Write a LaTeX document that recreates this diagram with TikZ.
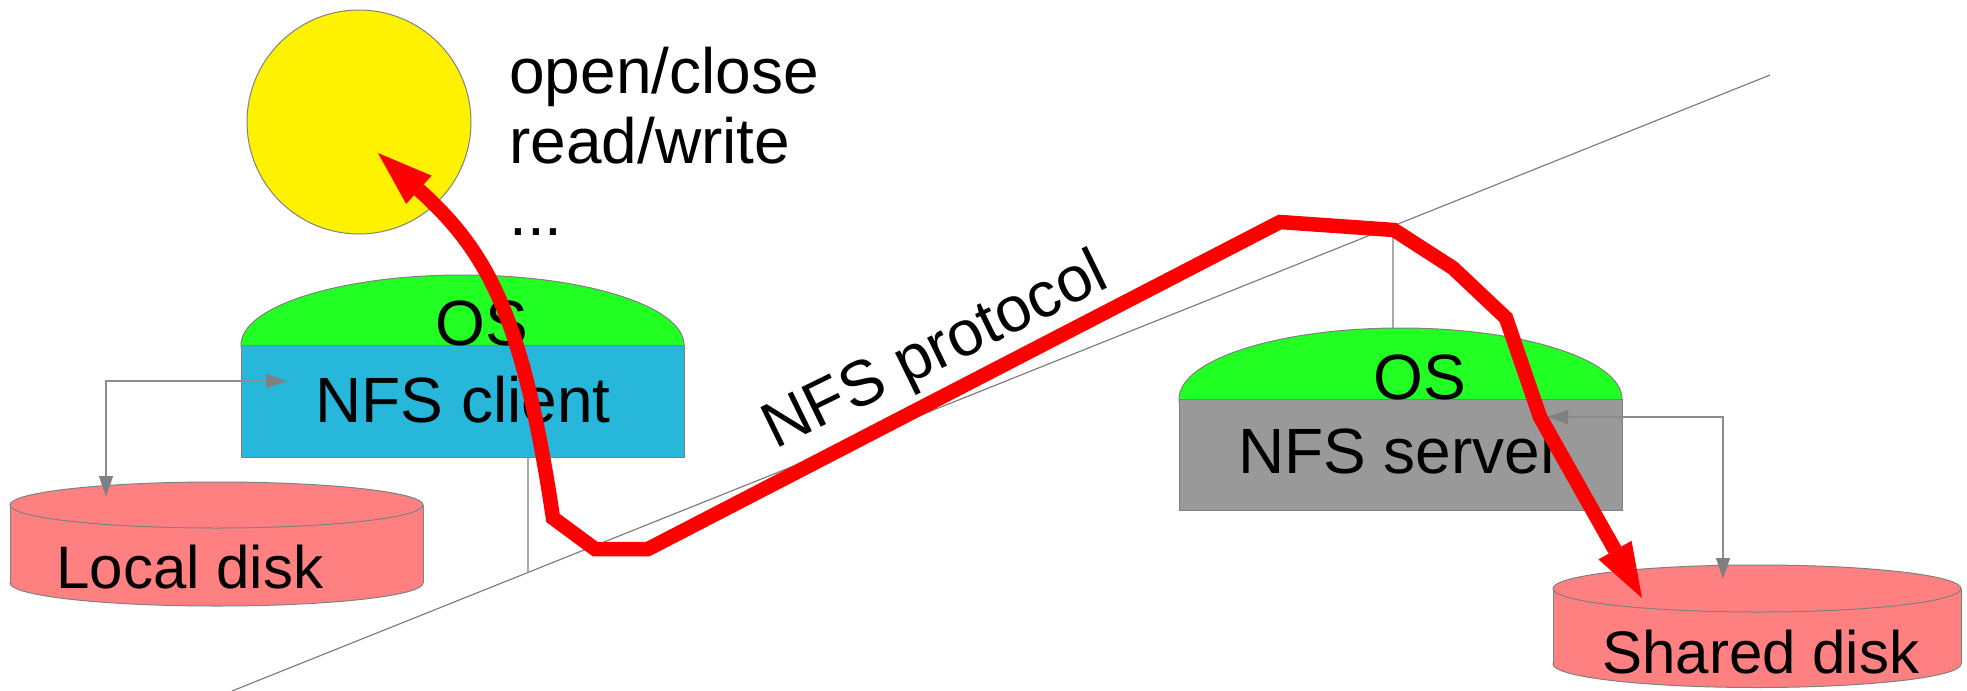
\documentclass[tikz,border=0pt]{standalone}
\usepackage{fontspec}
\setmainfont{Liberation Sans}
\usetikzlibrary{arrows.meta}
\definecolor{osgreen}{RGB}{34,255,34}
\definecolor{clblue}{RGB}{38,183,219}
\definecolor{svgray}{RGB}{153,153,153}
\definecolor{diskpink}{RGB}{255,128,128}
\definecolor{outl}{RGB}{128,128,128}
\definecolor{connc}{RGB}{140,140,140}
\definecolor{thinc}{RGB}{170,170,170}
\begin{document}
\begin{tikzpicture}[x=0.5pt,y=-0.5pt,
  outline/.style={draw=outl, line width=0.5pt},
  lbl/.style={font=\fontsize{32}{38}\selectfont, inner sep=0pt, anchor=base},
  txt/.style={font=\fontsize{32}{38}\selectfont, inner sep=0pt, anchor=base west},
  dlbl/.style={font=\fontsize{30}{36}\selectfont, inner sep=0pt, anchor=base west},
  gtip/.style={Triangle[length=10.5pt,width=7pt,color=outl]},
  conn/.style={draw=connc, line width=0.6pt, {Triangle[length=10.5pt,width=7pt,color=outl]}-{Triangle[length=10.5pt,width=7pt,color=outl]}},
  flow/.style={draw=red, line width=7.25pt, line join=miter, {Triangle[length=27.5pt,width=19pt,line width=0pt]}-{Triangle[length=27.5pt,width=19pt,line width=0pt]}},
  plane/.style={draw=outl, line width=0.6pt},
  drop/.style={draw=thinc, line width=0.6pt},
  boxnode/.style={draw=outl, line width=0.5pt, minimum width=221.5pt, inner sep=0pt}
]
\useasboundingbox (0,0) rectangle (1967,691);

% network plane
\coordinate (pa) at (232,691);
\coordinate (pb) at (1770,75);
\draw[plane] (pa) -- (pb);

% application circle
\node[circle, fill=yellow, draw=outl, line width=0.5pt, minimum size=112pt, inner sep=0pt] (app) at (359,122) {};
\node[txt] (op1) at (509,93) {open/close};
\node[txt] (op2) at (509,163) {read/write};
\node[txt] (op3) at (509,235) {...};

% client
\coordinate (cdrop) at (528,572.4);
\filldraw[fill=osgreen, outline] (462.5,345) ellipse[x radius=221.5, y radius=70];
\node[boxnode, fill=clblue, minimum height=56pt] (cbox) at (462.5,401) {};
\draw[drop] (cdrop |- cbox.south) -- (cdrop);
\node[lbl] (cos) at (482,345) {OS};
\node[lbl] (cnfs) at (463,422) {NFS client};

% server
\coordinate (sdrop) at (1393,226);
\coordinate (sdometop) at (1400.5,328);
\draw[drop] (sdrop) -- (sdrop |- sdometop);
\filldraw[fill=osgreen, outline] (1400.5,399) ellipse[x radius=221.5, y radius=71];
\node[boxnode, fill=svgray, minimum height=55.5pt] (sbox) at (1400.5,454.5) {};
\node[lbl] (sos) at (1420,399) {OS};
\node[lbl] (snfs) at (1400,473) {NFS server};

% local disk
\filldraw[fill=diskpink, outline] (216.5,583) ellipse[x radius=206.5, y radius=23];
\fill[diskpink] (10,505) rectangle (423,583);
\draw[outline] (10,505) -- (10,583) (423,505) -- (423,583);
\filldraw[fill=diskpink, outline] (216.5,505) ellipse[x radius=206.5, y radius=23];
\node[dlbl] (ldisk) at (56,588) {Local disk};

% shared disk
\filldraw[fill=diskpink, outline] (1757,664) ellipse[x radius=204, y radius=23.5];
\fill[diskpink] (1553,588.5) rectangle (1961,664);
\draw[outline] (1553,588.5) -- (1553,664) (1961,588.5) -- (1961,664);
\filldraw[fill=diskpink, outline] (1757,588.5) ellipse[x radius=204, y radius=23.5];
\node[dlbl] (sdisk) at (1602,673) {Shared disk};

% local connectors
\coordinate (cin) at (287,381);
\coordinate (ldtop) at (106,497);
\draw[conn] (cin) -| (ldtop);
\coordinate (sin) at (1547,417);
\coordinate (sdtop) at (1723,579);
\draw[conn] (sin) -| (sdtop);

% protocol label
\node[txt, rotate=26] (proto) at (775,450) {NFS protocol};

% request path
\coordinate (f0) at (378,153);
\coordinate (f1) at (553,518);
\coordinate (f2) at (595,549);
\coordinate (f3) at (648,549);
\coordinate (f4) at (1280,222);
\coordinate (f5) at (1394,230);
\coordinate (f6) at (1453,268);
\coordinate (f7) at (1506,318);
\coordinate (f8) at (1540,417);
\coordinate (f9) at (1642,598);
\draw[flow] (f0) .. controls (488,252) and (523,317) .. (f1) -- (f2) -- (f3) -- (f4) -- (f5) -- (f6) -- (f7) -- (f8) -- (f9);
\end{tikzpicture}
\end{document}
